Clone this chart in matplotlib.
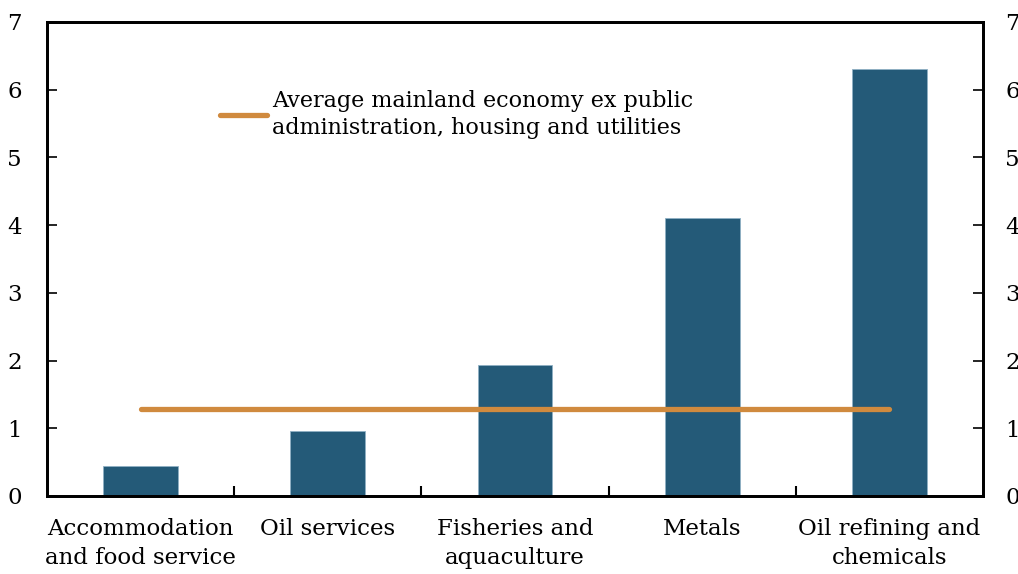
import numpy as np
import matplotlib.pyplot as plt

# sector data
categories = ['Accommodation\nand food service', 'Oil services', 'Fisheries and\naquaculture',
              'Metals', 'Oil refining and\nchemicals']
values = [0.45, 0.96, 1.94, 4.1, 6.3]
average = 1.28
avg_label = 'Average mainland economy ex public\nadministration, housing and utilities'

plt.rcParams['font.family'] = ['DejaVu Serif']

fig = plt.figure(figsize=(10.18, 5.74), dpi=100)
ax = fig.add_axes([0.0462, 0.1359, 0.9194, 0.8258])

x = np.arange(len(categories))
ax.bar(x, values, width=0.4, color='#245a78', edgecolor='#8fb0c4', linewidth=0.6, zorder=2)
ax.plot(x, [average] * len(x), color='#d08a3e', linewidth=3.8, solid_capstyle='round',
        label=avg_label, zorder=3)

ax.set_xlim(-0.5, len(categories) - 0.5)
ax.set_ylim(0, 7)
ax.set_yticks(range(0, 8))
ax.set_xticks(x)
ax.set_xticklabels(categories, fontsize=16.5, linespacing=1.4)
ax.set_xticks(np.arange(0.5, len(categories) - 1, 1.0), minor=True)
ax.tick_params(axis='x', which='major', length=0, pad=16)
ax.tick_params(axis='x', which='minor', length=7, direction='in', width=1.5)
ax.tick_params(axis='y', direction='in', length=7, width=1.2, labelsize=16.5, pad=18)

ax2 = ax.twinx()
ax2.set_ylim(0, 7)
ax2.set_yticks(range(0, 8))
ax2.tick_params(axis='y', direction='in', length=7, width=1.2, labelsize=16.5, pad=16)

for a in (ax, ax2):
    for s in a.spines.values():
        s.set_linewidth(2)

leg = ax.legend(loc='upper left', bbox_to_anchor=(0.175, 0.875), frameon=False, fontsize=16,
                handlelength=2.15, handletextpad=0.2, borderaxespad=0)
for t in leg.get_texts():
    t.set_linespacing(1.3)

fig.savefig('out.png', dpi=100)
